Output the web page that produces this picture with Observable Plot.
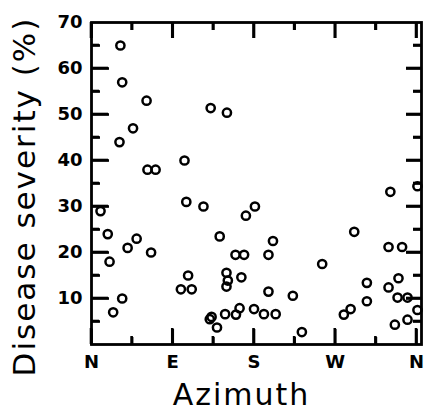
<!DOCTYPE html>
<html><head><meta charset="utf-8">
<script src="https://cdn.jsdelivr.net/npm/d3@7"></script>
<script src="https://cdn.jsdelivr.net/npm/@observablehq/plot@0.6"></script>
<style>body{margin:0;background:#fff} g[aria-label="text"] text{letter-spacing:2px}</style>
</head><body><div id="chart"></div>
<script>
const azimuth  = [10,18,20,24,31,32,34,34,40,46,50,61,62,66,71,99,103,105,107,111,124,132,133,131,139,142,148,150,149.5,151,149.5,159.5,160,164,166,169,171,180,181,191,196,196,201,204,223,233,255.5,279.5,287,291,305,305,329,331,329,336,339,340,344,350,350,361,361];
const severity = [29,24,18,7,44,65,57,10,21,47,23,53,38,20,38,12,40,31,15,12,30,51.4,6,5.5,3.7,23.5,6.6,50.4,15.6,13.9,12.6,19.5,6.5,7.9,14.6,19.5,28,7.7,30,6.6,19.5,11.5,22.5,6.6,10.6,2.7,17.5,6.5,7.7,24.5,13.4,9.4,21.2,33.2,12.4,4.3,10.2,14.4,21.2,10.2,5.4,34.4,7.5];
const majorX = [0,90,180,270,360];
const minorX = [45,135,225,315];
const xTickLabels = ["N","E","S","W","N"];
const majorY = [10,20,30,40,50,60];
const minorY = [5,15,25,35,45,55,65];
const yTickLabels = [10,20,30,40,50,60,70];
const xTitle = "Azimuth";
const yTitle = "Disease severity (%)";

const pts = azimuth.map((a,i)=>({a, s: severity[i]}));
const font = "DejaVu Sans";
const FH = 322, FW = 330;
const xMax = 365.5, yMax = 70;
const sw = 2.6;
const tk = {text: null, label: null, stroke: "#000", strokeWidth: sw};

const chart = Plot.plot({
  width: 424, height: 411,
  marginLeft: 91, marginRight: 3, marginTop: 22, marginBottom: 67,
  style: {background: "#fff", color: "#000"},
  x: {domain: [0, xMax], axis: null},
  y: {domain: [0, yMax], axis: null},
  marks: [
    Plot.frame({stroke: "#000", strokeWidth: 2.8, fill: "none"}),
    // inward ticks: axes anchored on the opposite side, shifted across the frame
    Plot.axisX(majorX, {anchor: "top", tickSize: 16, dy: FH, ...tk}),
    Plot.axisX(minorX, {anchor: "top", tickSize: 8, dy: FH, ...tk}),
    Plot.axisX(majorX, {anchor: "bottom", tickSize: 16, dy: -FH, ...tk}),
    Plot.axisX(minorX, {anchor: "bottom", tickSize: 8, dy: -FH, ...tk}),
    Plot.axisY(majorY, {anchor: "right", tickSize: 17, dx: -FW, ...tk}),
    Plot.axisY(minorY, {anchor: "right", tickSize: 8, dx: -FW, ...tk}),
    Plot.axisY(majorY, {anchor: "left", tickSize: 15, dx: FW, ...tk}),
    Plot.axisY(minorY, {anchor: "left", tickSize: 8, dx: FW, ...tk}),
    Plot.axisX(majorX, {label: null, tickSize: 0, tickPadding: 11, tickFormat: d => xTickLabels[majorX.indexOf(d)], fontSize: 18, fontWeight: "bold", fontFamily: font, fill: "#000"}),
    Plot.axisY(yTickLabels, {label: null, tickSize: 0, tickPadding: 9, fontSize: 18, fontWeight: "bold", fontFamily: font, fill: "#000"}),
    Plot.dot(pts, {x: "a", y: "s", r: 4.1, stroke: "#000", strokeWidth: 2.5, fill: "none"}),
    Plot.text([xTitle], {text: d=>d, frameAnchor: "bottom", dx: -15, dy: 51, fontSize: 30, fontFamily: font, fill: "#000", lineAnchor: "middle", textAnchor: "middle"}),
    Plot.text([yTitle], {text: d=>d, frameAnchor: "left", dx: -66, dy: 13, rotate: -90, fontSize: 31, fontFamily: font, fill: "#000", lineAnchor: "middle", textAnchor: "middle"})
  ]
});
document.getElementById("chart").appendChild(chart);

// backup tick lines, positioned with the plot's own scales
const sx = chart.scale("x"), sy = chart.scale("y");
const X = v => sx.apply(v), Y = v => sy.apply(v);
const g = d3.select(chart).append("g").attr("stroke", "#000").attr("stroke-width", sw);
const x0 = X(0), xR = X(xMax), y0 = Y(0), yT = Y(yMax);
const addX = (vals, len) => vals.forEach(v => {
  g.append("line").attr("x1", X(v)).attr("x2", X(v)).attr("y1", y0).attr("y2", y0 - len);
  g.append("line").attr("x1", X(v)).attr("x2", X(v)).attr("y1", yT).attr("y2", yT + len);
});
const addY = (vals, lenL, lenR) => vals.forEach(v => {
  g.append("line").attr("y1", Y(v)).attr("y2", Y(v)).attr("x1", x0).attr("x2", x0 + lenL);
  g.append("line").attr("y1", Y(v)).attr("y2", Y(v)).attr("x1", xR).attr("x2", xR - lenR);
});
addX(majorX, 16); addX(minorX, 8);
addY(majorY, 17, 15); addY(minorY, 8, 8);
</script>
</body></html>
